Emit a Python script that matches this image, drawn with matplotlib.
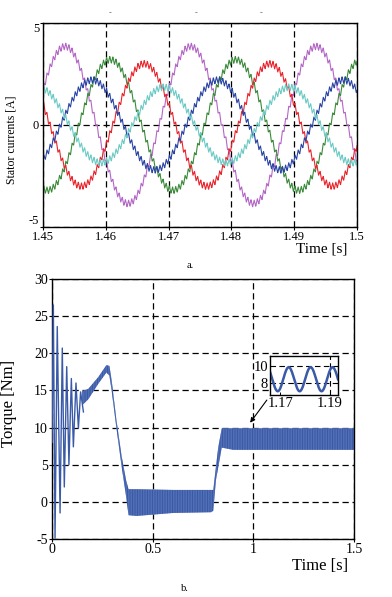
import numpy as np
import matplotlib
matplotlib.use('Agg')
import matplotlib.pyplot as plt

plt.rcParams['font.family'] = ['Liberation Serif', 'DejaVu Serif']
plt.rcParams['axes.unicode_minus'] = False
plt.rcParams['hatch.linewidth'] = 1.0

# ---------------- data: panel a (stator currents) ----------------
top_xticks = [1.45, 1.46, 1.47, 1.48, 1.49, 1.5]
top_xticklabels = ['1.45', '1.46', '1.47', '1.48', '1.49', '1.5']
top_yticks = [-5, 0, 5]
fund_freq_hz = 50.0
phase_amplitude = [3.85, 3.2, 3.0, 2.2, 1.85]           # A, fundamental amplitude
phase_peak_time = [1.4535, 1.4607, 1.4661, 1.4578, 1.4692]  # s, time of a positive peak
ripple_amplitude = 0.17                                 # A
ripple_freq_hz = 2000.0

# ---------------- data: panel b (torque) ----------------
bot_xticks = [0, 0.5, 1, 1.5]
bot_xticklabels = ['0', '0.5', '1', '1.5']
bot_yticks = [-5, 0, 5, 10, 15, 20, 25, 30]
# start-up oscillation: successive peaks / troughs
osc_t = [0.0, 0.0066, 0.015, 0.026, 0.040, 0.051, 0.061, 0.073, 0.084,
         0.096, 0.106, 0.119, 0.131, 0.142, 0.156]
osc_v = [8.0, 26.5, -4.9, 23.6, -1.5, 20.7, 2.0, 18.2, 5.0,
         16.6, 7.4, 16.0, 9.9, 14.8, 12.1]
# ripple band envelope afterwards
band_t = [0.150, 0.180, 0.230, 0.270, 0.285, 0.296, 0.320, 0.346, 0.368, 0.380,
          0.420, 0.600, 0.790, 0.801, 0.814, 0.826, 0.843, 0.900, 1.200, 1.500]
band_up = [14.9, 15.2, 16.8, 18.4, 18.3, 16.4, 11.0, 6.1, 2.9, 1.7,
           1.7, 1.6, 1.6, 1.6, 4.7, 7.4, 9.9, 9.9, 9.9, 9.9]
band_lo = [13.0, 13.8, 15.9, 17.4, 17.0, 15.0, 9.9, 4.7, 0.7, -1.8,
           -1.9, -1.5, -1.4, -1.2, 2.9, 4.7, 7.3, 7.0, 7.0, 7.0]
# zoom inset (steady-state torque ripple)
inset_xticks = [1.17, 1.19]
inset_yticks = [8, 10]
inset_center = 8.4
inset_amp = 1.45
inset_period = 0.0088
inset_peak_time = 1.1734

# ---------------- figure ----------------
fig = plt.figure(figsize=(3.92, 5.97), dpi=100)

# panel a
ax1 = fig.add_axes([0.1097, 0.6198, 0.8010, 0.3417])
phase_colors = ['#b466c6', '#3a8a3a', '#e8242c', '#2a44a4', '#6ccac4']
t = np.linspace(1.45, 1.5, 3001)
rip = (2 / np.pi) * np.arcsin(np.sin(2 * np.pi * ripple_freq_hz * t))
for k, (A, tp) in enumerate(zip(phase_amplitude, phase_peak_time)):
    i = A * np.cos(2 * np.pi * fund_freq_hz * (t - tp)) + ripple_amplitude * rip
    ax1.plot(t, i, color=phase_colors[k], lw=0.8)
ax1.set_xlim(1.45, 1.5)
ax1.set_ylim(-5, 5)
ax1.set_xticks(top_xticks)
ax1.set_xticklabels(top_xticklabels)
ax1.set_yticks(top_yticks)
ax1.tick_params(labelsize=9, length=2, width=0.8, pad=0.8, direction='out')
ylabs = ax1.get_yticklabels()
ylabs[0].set_va('bottom')
ylabs[-1].set_va('top')
ax1.grid(True, color='black', ls=(0, (5, 3)), lw=0.9)
ax1.set_ylabel('Stator currents [A]', fontsize=8.5)
ax1.yaxis.set_label_coords(-0.08, 0.43)
for s in ax1.spines.values():
    s.set_linewidth(1.0)
fig.text(0.885, 0.5825, 'Time [s]', fontsize=11, ha='right', va='center')
fig.text(0.485, 0.556, 'a.', fontsize=7.5, ha='center', va='center')
for xx in [0.281, 0.5, 0.666]:
    fig.text(xx, 0.9787, '-', fontsize=6, color='#555555', ha='center', va='center')

# panel b
ax2 = fig.add_axes([0.1327, 0.0972, 0.7704, 0.4355])
tc = '#3a5aa8'
ax2.fill_between(band_t, band_lo, band_up, facecolor='#8ea2d6', edgecolor=tc,
                 hatch='|' * 10, linewidth=0, zorder=2)
ax2.plot(osc_t, osc_v, color=tc, lw=1.0, zorder=3)
ax2.set_xlim(0, 1.5)
ax2.set_ylim(-5, 30)
ax2.set_xticks(bot_xticks)
ax2.set_xticklabels(bot_xticklabels)
ax2.set_yticks(bot_yticks)
ax2.tick_params(labelsize=10, length=2, width=0.8, pad=1.0, direction='out')
ax2.grid(True, color='black', ls=(0, (5, 3)), lw=0.9)
ax2.set_axisbelow(True)
ax2.set_ylabel('Torque [Nm]', fontsize=12)
ax2.yaxis.set_label_coords(-0.116, 0.523)
for s in ax2.spines.values():
    s.set_linewidth(1.0)
ax2.annotate('', xy=(0.984, 10.65), xytext=(1.067, 13.7),
             arrowprops=dict(arrowstyle='-|>', color='black', lw=0.8,
                             mutation_scale=7, shrinkA=0, shrinkB=0))
fig.text(0.888, 0.0519, 'Time [s]', fontsize=12, ha='right', va='center')
fig.text(0.472, 0.015, 'b.', fontsize=7.5, ha='center', va='center')

# inset
ins = fig.add_axes([0.6895, 0.3384, 0.1727, 0.0653])
ti = np.linspace(1.166, 1.1932, 600)
ins.plot(ti, inset_center + inset_amp * np.cos(2 * np.pi * (ti - inset_peak_time) / inset_period),
         color=tc, lw=1.8)
ins.set_xlim(1.166, 1.1932)
ins.set_ylim(6.5, 11.2)
ins.set_xticks(inset_xticks)
ins.set_xticklabels(['1.17', '1.19'])
ins.set_yticks(inset_yticks)
ins.set_yticklabels(['8', '10'])
ins.tick_params(labelsize=10.5, length=2, width=0.7, pad=1.5, direction='in')
ins.grid(True, color='black', ls=(0, (5, 3)), lw=0.8)
ins.get_xgridlines()[0].set_visible(False)
for s in ins.spines.values():
    s.set_linewidth(1.0)

fig.savefig('out.png', dpi=100)
